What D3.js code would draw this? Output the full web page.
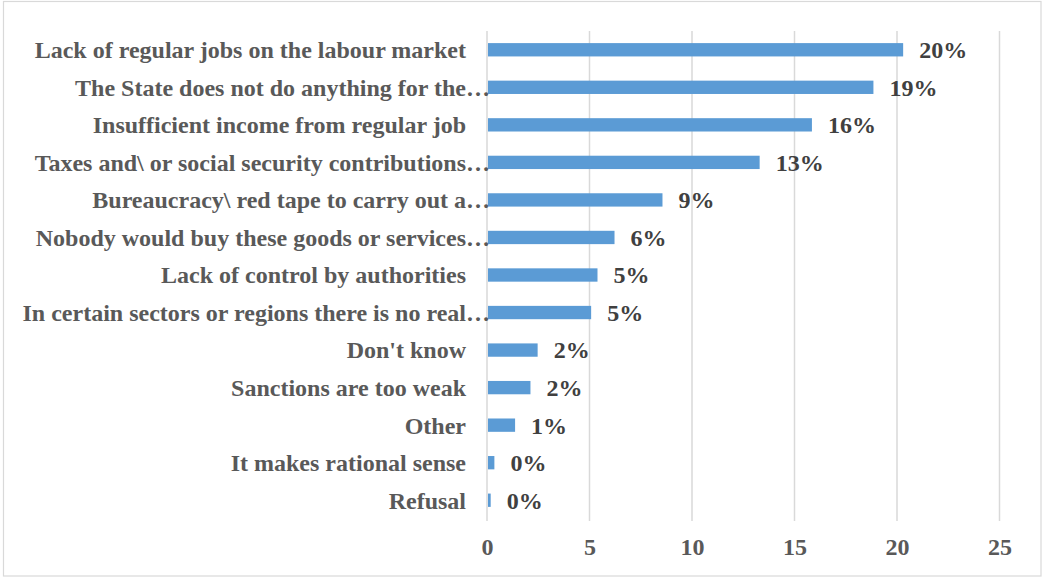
<!DOCTYPE html>
<html>
<head>
<meta charset="utf-8">
<script src="https://cdn.jsdelivr.net/npm/d3@7"></script>
<style>
  html, body { margin: 0; padding: 0; background: #ffffff; }
  svg { display: block; }
</style>
</head>
<body>
<svg id="chart" width="1042" height="577"></svg>
<script>
// Reasons for undeclared work (share of answers)
const categories = [
  "Lack of regular jobs on the labour market",
  "The State does not do anything for the…",
  "Insufficient income from regular job",
  "Taxes and\\ or social security contributions…",
  "Bureaucracy\\ red tape to carry out a…",
  "Nobody would buy these goods or services…",
  "Lack of control by authorities",
  "In certain sectors or regions there is no real…",
  "Don't know",
  "Sanctions are too weak",
  "Other",
  "It makes rational sense",
  "Refusal"
];
const values = [20.3, 18.85, 15.85, 13.3, 8.56, 6.22, 5.39, 5.08, 2.47, 2.12, 1.37, 0.36, 0.18];
const xTicks = [0, 5, 10, 15, 20, 25];

const svg = d3.select("#chart");
const W = 1042, H = 577;
const plot = { left: 487, right: 999.5, top: 31, bottom: 519 };
const fontFamily = "'Liberation Serif', 'Times New Roman', serif";
const fontSize = 24;

// outer frame
svg.append("rect")
  .attr("x", 3.5).attr("y", 1.5)
  .attr("width", W - 4.5).attr("height", H - 2.5)
  .attr("fill", "#ffffff")
  .attr("stroke", "#d9d9d9").attr("stroke-width", 1.2);

const x = d3.scaleLinear().domain([0, 25]).range([plot.left, plot.right]);
const y = d3.scaleBand()
  .domain(categories)
  .range([plot.top, plot.bottom])
  .paddingInner(0.645)
  .paddingOuter(0.3225);

// vertical gridlines
svg.append("g")
  .selectAll("line")
  .data(xTicks)
  .join("line")
  .attr("x1", d => x(d)).attr("x2", d => x(d))
  .attr("y1", plot.top).attr("y2", plot.bottom + 2)
  .attr("stroke", "#d9d9d9").attr("stroke-width", 1.5);

// bars
svg.append("g")
  .selectAll("rect")
  .data(values)
  .join("rect")
  .attr("x", x(0) + 1)
  .attr("y", (d, i) => y(categories[i]))
  .attr("width", d => Math.max(0, x(d) - x(0) - 1))
  .attr("height", y.bandwidth())
  .attr("fill", "#5b9bd5");

// value labels
svg.append("g")
  .selectAll("text")
  .data(values)
  .join("text")
  .attr("x", d => x(d) + 16)
  .attr("y", (d, i) => y(categories[i]) + y.bandwidth() / 2)
  .attr("dy", "0.35em")
  .attr("font-family", fontFamily)
  .attr("font-weight", "bold")
  .attr("font-size", fontSize)
  .attr("fill", "#404040")
  .text(d => d3.format(".0f")(d) + "%");

// category labels (truncated ones keep their ellipsis hanging past the label edge)
const labelRight = 466;
const catG = svg.append("g")
  .attr("font-family", fontFamily)
  .attr("font-weight", "bold")
  .attr("font-size", fontSize)
  .attr("fill", "#595959");
categories.forEach(c => {
  const cy = y(c) + y.bandwidth() / 2;
  const cut = c.endsWith("…");
  const base = cut ? c.slice(0, -1) : c;
  catG.append("text")
    .attr("x", labelRight).attr("y", cy).attr("dy", "0.35em")
    .attr("text-anchor", "end")
    .text(base);
  if (cut) {
    catG.append("text")
      .attr("x", labelRight).attr("y", cy).attr("dy", "0.35em")
      .attr("text-anchor", "start")
      .text("…");
  }
});

// x axis tick labels
const xAxis = d3.axisBottom(x).tickValues(xTicks).tickSize(0).tickPadding(0);
const axG = svg.append("g")
  .attr("transform", `translate(0, ${plot.bottom})`)
  .call(xAxis);
axG.select(".domain").remove();
axG.selectAll("text")
  .attr("y", 28)
  .attr("dy", "0.35em")
  .attr("font-family", fontFamily)
  .attr("font-weight", "bold")
  .attr("font-size", fontSize)
  .attr("fill", "#595959");
</script>
</body>
</html>
